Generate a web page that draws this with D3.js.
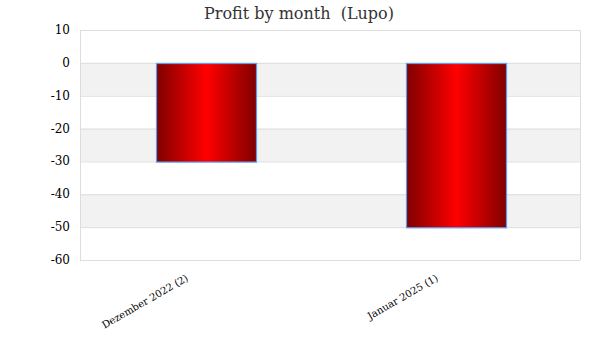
<!DOCTYPE html>
<html><head><meta charset="utf-8">
<script src="https://cdn.jsdelivr.net/npm/d3@7"></script>
<style>body{margin:0;background:#fff;}</style>
</head><body>
<svg id="c" width="600" height="360"></svg>
<script>
const categories = ["Dezember 2022 (2)", "Januar 2025 (1)"];
const profits = [-30, -50];
const yTicks = [10, 0, -10, -20, -30, -40, -50, -60];
const title = "Profit by month  (Lupo)";

const svg = d3.select("#c");
const m = {l: 80, r: 20, t: 30, b: 100};
const W = 600, H = 360;
const x = d3.scaleBand().domain(categories).range([m.l, W - m.r]).paddingInner(0.6).paddingOuter(0.3);
const y = d3.scaleLinear().domain([-60, 10]).range([H - m.b, m.t]);
const font = "Georgia, 'DejaVu Serif', 'Liberation Serif', serif";

const defs = svg.append("defs");
const g = defs.append("linearGradient").attr("id", "gr").attr("x1", "0").attr("x2", "1").attr("y1", "0").attr("y2", "0");
g.append("stop").attr("offset", "0%").attr("stop-color", "#800000");
g.append("stop").attr("offset", "50%").attr("stop-color", "#ff0000");
g.append("stop").attr("offset", "100%").attr("stop-color", "#800000");

// stripes
for (let i = 0; i < yTicks.length - 1; i++) {
  const top = yTicks[i], bot = yTicks[i + 1];
  svg.append("rect").attr("x", m.l).attr("width", W - m.r - m.l)
    .attr("y", y(top)).attr("height", y(bot) - y(top))
    .attr("fill", i % 2 === 1 ? "#f2f2f2" : "#ffffff");
}
// grid lines
svg.append("g").selectAll("line").data(yTicks).join("line")
  .attr("x1", m.l).attr("x2", W - m.r)
  .attr("y1", d => y(d) + 0.5).attr("y2", d => y(d) + 0.5)
  .attr("stroke", "#dddddd");
// border
svg.append("line").attr("x1", m.l + 0.5).attr("x2", m.l + 0.5).attr("y1", y(10)).attr("y2", y(-60)).attr("stroke", "#dddddd");
svg.append("line").attr("x1", W - m.r + 0.5).attr("x2", W - m.r + 0.5).attr("y1", y(10)).attr("y2", y(-60)).attr("stroke", "#dddddd");

// bars
svg.append("g").selectAll("rect").data(categories).join("rect")
  .attr("x", d => Math.round(x(d)) + 1.5)
  .attr("width", x.bandwidth())
  .attr("y", (d, i) => Math.round(y(Math.max(0, profits[i]))) + 0.5)
  .attr("height", (d, i) => Math.abs(y(profits[i]) - y(0)))
  .attr("fill", "url(#gr)")
  .attr("stroke", "#5a9cf8").attr("stroke-width", 1.2);

// y axis labels
svg.append("g").selectAll("text").data(yTicks).join("text")
  .attr("x", 70).attr("y", d => y(d) + 4)
  .attr("text-anchor", "end").attr("font-family", font).attr("font-size", 12).attr("fill", "#000")
  .text(d => d);

// x labels
svg.append("g").selectAll("text").data(categories).join("text")
  .attr("transform", d => `translate(${x(d) + x.bandwidth() / 2 - 16},${H - m.b + 20}) rotate(-30)`)
  .attr("text-anchor", "end").attr("font-family", font).attr("font-size", 10).attr("fill", "#000")
  .text(d => d);

// title
svg.append("text").attr("x", 299).attr("y", 19).attr("text-anchor", "middle")
  .attr("xml:space", "preserve").style("white-space", "pre")
  .attr("font-family", font).attr("font-size", 16).attr("fill", "#333").text(title);
</script>
</body></html>
